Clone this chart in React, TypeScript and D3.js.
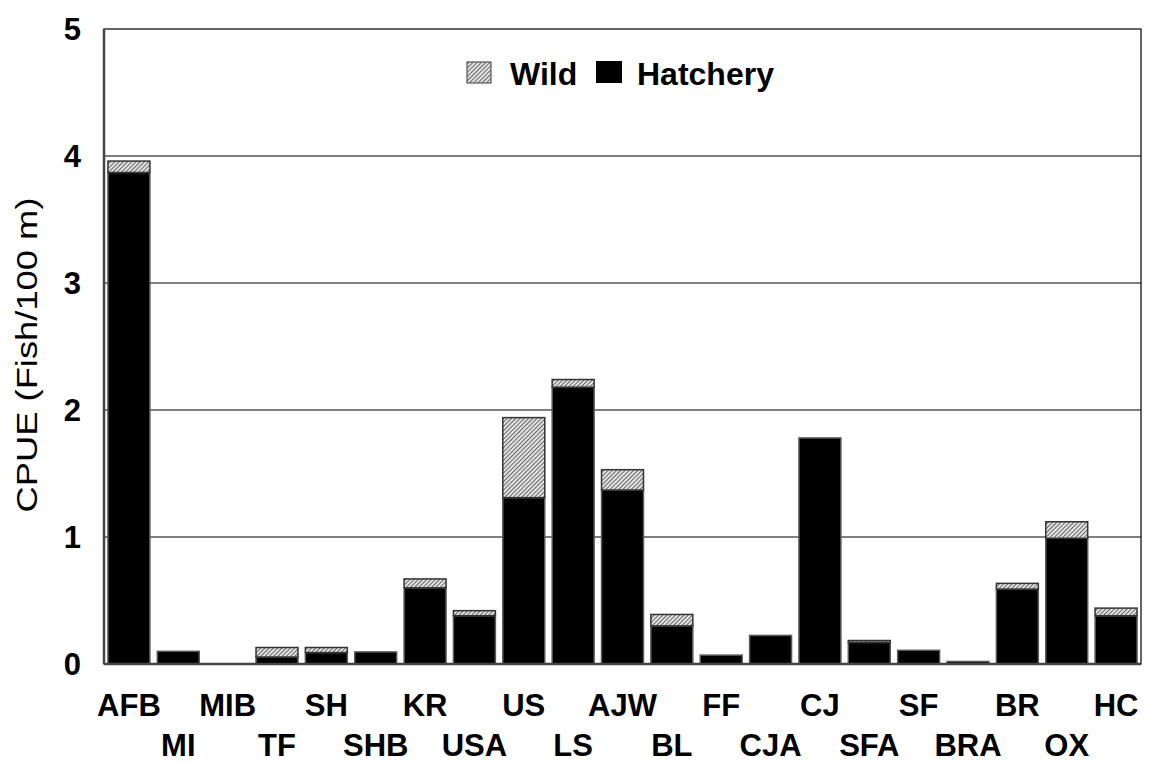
import React, { useRef, useEffect } from "react";
import * as d3 from "d3";

// sites along the river, left to right
const sites = [
  "AFB", "MI", "MIB", "TF", "SH", "SHB", "KR", "USA", "US", "LS", "AJW",
  "BL", "FF", "CJA", "CJ", "SFA", "SF", "BRA", "BR", "OX", "HC",
];
const hatchery = [
  3.87, 0.1, 0, 0.055, 0.09, 0.095, 0.6, 0.38, 1.31, 2.18, 1.37,
  0.3, 0.07, 0.225, 1.78, 0.17, 0.108, 0.02, 0.59, 0.99, 0.38,
];
const wild = [
  0.09, 0, 0, 0.075, 0.04, 0, 0.07, 0.04, 0.63, 0.06, 0.16,
  0.09, 0, 0, 0, 0.015, 0, 0, 0.045, 0.13, 0.06,
];
const yTicks = [0, 1, 2, 3, 4, 5];

const W = 1149;
const H = 763;
const margin = { top: 29, right: 8, bottom: 99, left: 104 };
const font = "'Liberation Sans', Arial, Helvetica, sans-serif";

const App: React.FC = () => {
  const ref = useRef<SVGSVGElement | null>(null);

  useEffect(() => {
    if (!ref.current) return;
    const svg = d3.select(ref.current);
    svg.selectAll("*").remove();

    const x = d3.scaleBand<string>()
      .domain(sites)
      .range([margin.left, W - margin.right])
      .paddingInner(0.15)
      .paddingOuter(0.08);
    const y = d3.scaleLinear().domain([0, 5]).range([H - margin.bottom, margin.top]);

    // hatch pattern for the wild fish
    const defs = svg.append("defs");
    const pat = defs.append("pattern")
      .attr("id", "hatch")
      .attr("patternUnits", "userSpaceOnUse")
      .attr("width", 3)
      .attr("height", 3)
      .attr("patternTransform", "rotate(45)");
    pat.append("rect").attr("width", 3).attr("height", 3).attr("fill", "#e8e8e8");
    pat.append("line")
      .attr("x1", 0).attr("y1", 0).attr("x2", 0).attr("y2", 3)
      .attr("stroke", "#6a6a6a").attr("stroke-width", 2.2);

    // gridlines
    svg.append("g")
      .selectAll("line")
      .data(yTicks.slice(1, -1))
      .join("line")
      .attr("x1", margin.left).attr("x2", W - margin.right)
      .attr("y1", (d) => y(d)).attr("y2", (d) => y(d))
      .attr("stroke", "#000").attr("stroke-width", 1.2);

    // bars
    const g = svg.append("g");
    sites.forEach((s, i) => {
      const h = hatchery[i];
      const w = wild[i];
      if (h > 0) {
        g.append("rect")
          .attr("x", x(s)!)
          .attr("width", x.bandwidth())
          .attr("y", y(h))
          .attr("height", y(0) - y(h))
          .attr("fill", "#000")
          .attr("stroke", "#5a5a5a")
          .attr("stroke-width", 1.5);
      }
      if (w > 0) {
        g.append("rect")
          .attr("x", x(s)!)
          .attr("width", x.bandwidth())
          .attr("y", y(h + w))
          .attr("height", y(h) - y(h + w))
          .attr("fill", "url(#hatch)")
          .attr("stroke", "#333")
          .attr("stroke-width", 1.5);
      }
    });

    // frame
    svg.append("rect")
      .attr("x", margin.left).attr("y", margin.top)
      .attr("width", W - margin.left - margin.right)
      .attr("height", H - margin.top - margin.bottom)
      .attr("fill", "none")
      .attr("stroke", "#000")
      .attr("stroke-width", 1.2);
    svg.append("line")
      .attr("x1", margin.left).attr("x2", margin.left)
      .attr("y1", margin.top).attr("y2", y(0))
      .attr("stroke", "#444").attr("stroke-width", 2.5);
    svg.append("line")
      .attr("x1", margin.left).attr("x2", W - margin.right)
      .attr("y1", y(0)).attr("y2", y(0))
      .attr("stroke", "#444").attr("stroke-width", 2.5);

    // y tick labels
    svg.append("g")
      .selectAll("text")
      .data(yTicks)
      .join("text")
      .attr("x", 81)
      .attr("y", (d) => y(d))
      .attr("dy", "0.36em")
      .attr("text-anchor", "end")
      .attr("font-family", font)
      .attr("font-weight", "bold")
      .attr("font-size", 31)
      .text((d) => d);

    svg.append("text")
      .attr("transform", "translate(37,355) rotate(-90)")
      .attr("text-anchor", "middle")
      .attr("font-family", font)
      .attr("font-size", 30)
      .attr("textLength", 315)
      .attr("lengthAdjust", "spacingAndGlyphs")
      .text("CPUE (Fish/100 m)");

    // x labels in two staggered rows
    svg.append("g")
      .selectAll("text")
      .data(sites)
      .join("text")
      .attr("x", (d) => x(d)! + x.bandwidth() / 2)
      .attr("y", (_, i) => (i % 2 === 0 ? 716 : 756))
      .attr("text-anchor", "middle")
      .attr("font-family", font)
      .attr("font-weight", "bold")
      .attr("font-size", 31)
      .text((d) => d);

    // legend
    const leg = svg.append("g").attr("font-family", font).attr("font-weight", "bold").attr("font-size", 32);
    leg.append("rect").attr("x", 467).attr("y", 62).attr("width", 24).attr("height", 21)
      .attr("fill", "url(#hatch)").attr("stroke", "#555").attr("stroke-width", 1.2);
    leg.append("text").attr("x", 510).attr("y", 85).text("Wild");
    leg.append("rect").attr("x", 596).attr("y", 61).attr("width", 26).attr("height", 22)
      .attr("fill", "#000");
    leg.append("text").attr("x", 637).attr("y", 85).text("Hatchery");
  }, []);

  return (
    <svg
      ref={ref}
      width={W}
      height={H}
      style={{ position: "absolute", left: 0, top: 0, background: "#fff" }}
    />
  );
};

export default App;
